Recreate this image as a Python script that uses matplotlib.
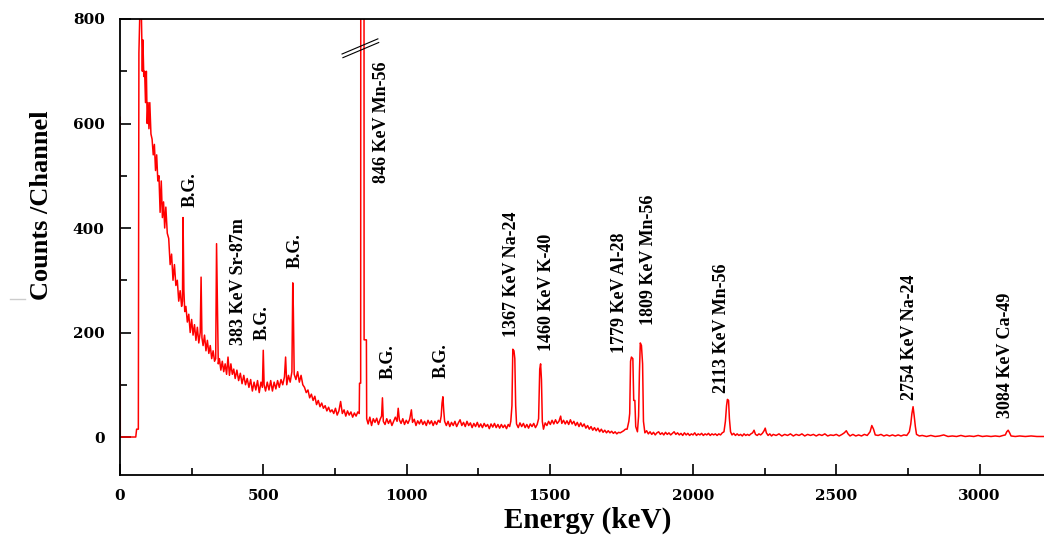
import matplotlib
matplotlib.use("Agg")
import matplotlib.pyplot as plt
from matplotlib.lines import Line2D

plt.rcParams["font.family"] = ["Liberation Serif", "DejaVu Serif"]
plt.rcParams["font.weight"] = "bold"

# espectro: (energia keV, contagens por canal)
spec_low = [
    (0, 612), (1, 0), (55, 0), (58, 15), (64, 15), (66, 735), (70, 830), (74, 830),
    (76, 760), (78, 700), (80, 760), (83, 690), (86, 700), (89, 640), (92, 700),
    (95, 600), (98, 640), (101, 590), (104, 640), (108, 580), (112, 570), (116, 540),
    (120, 560), (124, 510), (128, 540), (132, 490), (136, 500), (140, 430), (144, 490),
    (148, 420), (152, 450), (156, 400), (160, 440), (165, 390), (170, 380), (175, 330),
    (180, 350), (185, 300), (190, 330), (195, 290), (200, 300), (205, 260), (210, 280),
    (215, 250), (218, 260), (220, 420), (223, 280), (226, 240), (230, 250), (235, 220),
    (240, 235), (245, 200), (250, 225), (255, 195), (260, 215), (265, 185), (270, 210),
    (275, 180), (280, 200), (283, 306), (286, 190), (290, 175), (295, 195), (300, 165),
    (305, 185), (310, 160), (315, 175), (320, 150), (325, 165), (330, 145), (334, 150),
    (337, 370), (340, 250), (343, 140), (347, 150), (352, 128), (357, 145), (362, 125),
    (367, 140), (372, 120), (377, 153), (382, 118), (387, 140), (392, 120), (397, 130),
    (402, 112), (408, 128), (414, 108), (420, 122), (426, 102), (432, 118), (438, 100),
    (444, 112), (450, 95), (456, 110), (462, 88), (468, 105), (474, 90), (480, 108),
    (486, 85), (492, 105), (497, 95), (500, 166), (503, 100), (508, 88), (514, 105),
    (520, 90), (526, 108), (532, 88), (538, 105), (544, 92), (550, 108), (556, 95),
    (562, 110), (568, 100), (574, 115), (578, 153), (582, 100), (588, 118), (594, 105),
    (600, 125), (603, 295), (605, 246), (608, 120), (614, 110), (620, 125), (626, 105),
    (632, 118), (638, 100), (644, 95), (650, 85), (656, 90), (662, 75), (668, 82),
    (674, 70), (680, 78), (686, 62), (692, 70), (698, 58), (704, 65), (710, 55),
    (716, 60), (722, 50), (728, 57), (734, 48), (740, 52), (746, 45), (752, 55),
    (758, 42), (764, 50), (770, 68), (776, 45), (782, 52), (788, 40), (794, 50),
    (800, 42), (806, 48), (812, 38), (818, 46), (824, 40), (830, 48), (835, 45),
    (836, 103), (840, 103), (841, 2500), (851, 2500), (852, 186), (860, 186), (861, 35),
]

spec_mid = [
    (866, 25), (872, 38), (878, 22), (884, 35), (890, 28), (896, 36), (902, 24),
    (908, 34), (913, 40), (916, 75), (919, 30), (925, 24), (931, 35), (937, 26),
    (943, 33), (949, 22), (955, 30), (961, 38), (967, 30), (971, 55), (975, 33),
    (981, 26), (987, 35), (993, 24), (999, 32), (1005, 26), (1011, 34), (1017, 52),
    (1021, 28), (1027, 34), (1033, 22), (1039, 31), (1045, 25), (1051, 33), (1057, 24),
    (1063, 30), (1069, 22), (1075, 32), (1081, 25), (1087, 31), (1093, 22), (1099, 30),
    (1105, 24), (1111, 32), (1117, 28), (1121, 40), (1124, 65), (1127, 77), (1130, 50),
    (1133, 30), (1139, 22), (1145, 30), (1151, 20), (1157, 28), (1163, 22), (1169, 30),
    (1175, 20), (1181, 27), (1187, 33), (1193, 22), (1199, 28), (1205, 20), (1211, 30),
    (1217, 22), (1223, 27), (1229, 18), (1235, 26), (1241, 20), (1247, 28), (1253, 19),
    (1259, 25), (1265, 18), (1271, 26), (1277, 20), (1283, 24), (1289, 16), (1295, 25),
    (1301, 19), (1307, 26), (1313, 18), (1319, 24), (1325, 17), (1331, 24), (1337, 18),
    (1343, 23), (1349, 16), (1355, 24), (1360, 20), (1364, 30), (1368, 60), (1371, 168),
    (1375, 165), (1378, 150), (1381, 60), (1384, 25), (1390, 18), (1396, 27), (1402, 20),
    (1408, 26), (1414, 18), (1420, 24), (1426, 17), (1432, 25), (1438, 20), (1444, 26),
    (1450, 18), (1456, 24), (1461, 35), (1465, 130), (1468, 140), (1471, 110), (1474, 30),
    (1478, 15), (1484, 27), (1490, 22), (1496, 30), (1502, 24), (1508, 32), (1514, 25),
    (1520, 33), (1526, 26), (1532, 30), (1538, 40), (1542, 26), (1548, 32), (1554, 25),
    (1560, 31), (1566, 24), (1572, 33), (1578, 25), (1584, 30), (1590, 22), (1596, 28),
    (1602, 20), (1608, 27), (1614, 20), (1620, 25), (1626, 17), (1632, 22), (1638, 15),
    (1644, 20), (1650, 13), (1656, 18), (1662, 12), (1668, 17), (1674, 10), (1680, 15),
    (1686, 9), (1692, 13), (1698, 8), (1704, 12), (1710, 8), (1716, 11), (1722, 7),
    (1728, 10), (1734, 6), (1740, 9), (1746, 8), (1752, 10), (1758, 12), (1764, 15),
    (1770, 15), (1776, 30), (1779, 45), (1782, 145), (1785, 153), (1790, 150), (1793, 70),
    (1797, 70), (1800, 20), (1806, 10), (1810, 40), (1813, 125), (1816, 180), (1820, 175),
    (1824, 140), (1827, 30), (1832, 8),
]

spec_high = [
    (1838, 12), (1844, 6), (1850, 10), (1856, 5), (1862, 9), (1868, 4), (1874, 8),
    (1880, 10), (1886, 5), (1892, 8), (1898, 4), (1904, 9), (1910, 5), (1916, 8),
    (1922, 4), (1928, 7), (1934, 10), (1940, 5), (1946, 8), (1952, 4), (1958, 7),
    (1964, 3), (1970, 8), (1976, 4), (1982, 7), (1988, 3), (1994, 6), (2000, 4),
    (2006, 8), (2012, 3), (2018, 6), (2024, 4), (2030, 7), (2036, 3), (2042, 6),
    (2048, 4), (2054, 7), (2060, 3), (2066, 6), (2072, 4), (2078, 6), (2084, 3),
    (2090, 6), (2096, 4), (2102, 8), (2108, 10), (2113, 30), (2117, 60), (2120, 72),
    (2124, 70), (2127, 35), (2131, 10), (2136, 4), (2142, 7), (2148, 3), (2154, 6),
    (2160, 3), (2166, 5), (2172, 2), (2178, 6), (2184, 3), (2190, 5), (2196, 3),
    (2202, 6), (2208, 8), (2213, 13), (2218, 5), (2224, 3), (2230, 6), (2236, 4),
    (2242, 7), (2248, 12), (2252, 17), (2256, 8), (2262, 3), (2268, 6), (2274, 2),
    (2280, 5), (2290, 3), (2300, 6), (2310, 2), (2320, 5), (2330, 3), (2340, 6),
    (2350, 2), (2360, 5), (2370, 3), (2380, 6), (2390, 2), (2400, 5), (2410, 3),
    (2420, 5), (2430, 2), (2440, 5), (2450, 3), (2460, 6), (2470, 2), (2480, 4),
    (2490, 3), (2500, 5), (2510, 2), (2520, 5), (2528, 8), (2535, 12), (2541, 6),
    (2548, 2), (2558, 5), (2568, 2), (2578, 4), (2588, 2), (2598, 5), (2608, 3),
    (2618, 10), (2624, 22), (2630, 15), (2636, 4), (2646, 3), (2656, 5), (2666, 2),
    (2676, 4), (2686, 2), (2696, 4), (2706, 2), (2716, 4), (2726, 2), (2736, 4),
    (2746, 3), (2755, 10), (2760, 25), (2764, 45), (2768, 58), (2772, 40), (2776, 20),
    (2780, 5), (2790, 2), (2800, 3), (2815, 1), (2830, 3), (2845, 1), (2860, 2),
    (2875, 4), (2890, 1), (2905, 2), (2920, 1), (2935, 3), (2950, 1), (2965, 2),
    (2980, 1), (2995, 3), (3010, 1), (3025, 2), (3040, 1), (3055, 2), (3070, 1),
    (3082, 3), (3090, 4), (3095, 10), (3100, 13), (3105, 8), (3110, 2), (3125, 1),
    (3140, 2), (3160, 1), (3180, 2), (3200, 1), (3230, 1),
]

# rotulos dos picos
peak_labels = ["B.G.", "383 KeV Sr-87m", "B.G.", "B.G.", "846 KeV Mn-56", "B.G.", "B.G.",
               "1367 KeV Na-24", "1460 KeV K-40", "1779 KeV Al-28", "1809 KeV Mn-56",
               "2113 KeV Mn-56", "2754 KeV Na-24", "3084 KeV Ca-49"]
label_x = [244, 412, 496, 611, 911, 935, 1120, 1365, 1487, 1745, 1846, 2098, 2757, 3092]
label_y = [440, 176, 186, 323, 486, 111, 113, 191, 165, 161, 214, 84, 71, 36]

espectro = spec_low + spec_mid + spec_high
energia = [p[0] for p in espectro]
contagens = [p[1] for p in espectro]

fig = plt.figure(figsize=(10.44, 5.35), dpi=100)
ax = fig.add_axes([120 / 1044, 60 / 535, 924 / 1044, 456 / 535])

ax.plot(energia, contagens, color="#ff0000", linewidth=1.1)

ax.set_xlim(0, 3225)
ax.set_ylim(-72.7, 800)
ax.set_xticks([0, 500, 1000, 1500, 2000, 2500, 3000])
ax.set_xticks([250, 750, 1250, 1750, 2250, 2750], minor=True)
ax.set_yticks([0, 200, 400, 600, 800])
ax.set_yticks([100, 300, 500, 700], minor=True)
ax.tick_params(which="both", direction="in", width=1.2)
ax.tick_params(which="major", length=8)
ax.tick_params(which="minor", length=5)
ax.tick_params(axis="x", pad=10)
ax.tick_params(axis="y", pad=11)
for lab in ax.get_xticklabels() + ax.get_yticklabels():
    lab.set_fontfamily("DejaVu Serif")
    lab.set_fontweight("bold")
    lab.set_fontsize(11)
ax.spines["right"].set_visible(False)
for s in ["left", "bottom", "top"]:
    ax.spines[s].set_linewidth(1.3)

ax.set_xlabel("Energy (keV)", fontsize=21, fontweight="bold")
ax.xaxis.set_label_coords(0.506, -0.116)
ax.xaxis.label.set_va("baseline")
ax.set_ylabel("Counts /Channel", fontsize=19, fontweight="bold")
ax.yaxis.set_label_coords(-0.073, 0.592)

for txt, lx, ly in zip(peak_labels, label_x, label_y):
    ax.text(lx, ly, txt, rotation=90, ha="center", va="bottom",
            fontsize=13, fontweight="bold")

# marca de quebra no pico de 846 keV
ax.plot([775, 900], [733, 762], color="black", linewidth=0.8, clip_on=False)
ax.plot([778, 903], [726, 755], color="black", linewidth=0.8, clip_on=False)

fig.lines.append(Line2D([10 / 1044, 25 / 1044], [1 - 299 / 535, 1 - 299 / 535],
                        color="#cccccc", linewidth=1, transform=fig.transFigure))

fig.savefig("out.png", dpi=100)
